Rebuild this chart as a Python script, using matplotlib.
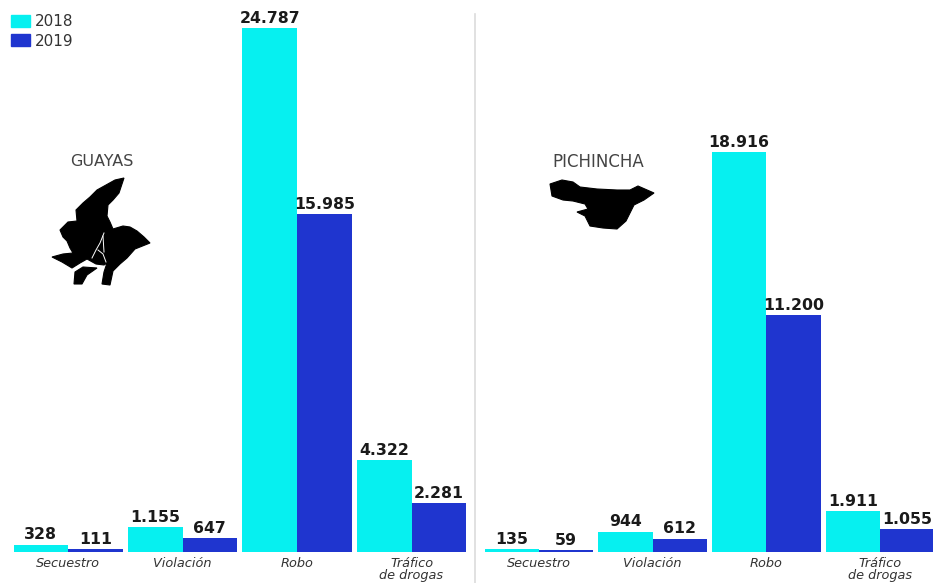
import matplotlib
matplotlib.use("Agg")
import matplotlib.pyplot as plt
from matplotlib.patches import Patch, Polygon

plt.rcParams['font.family'] = ['DejaVu Sans']

categories = ['Secuestro', 'Violación', 'Robo', 'Tráfico\nde drogas']
guayas_2018 = [328, 1155, 24787, 4322]
guayas_2019 = [111, 647, 15985, 2281]
pichincha_2018 = [135, 944, 18916, 1911]
pichincha_2019 = [59, 612, 11200, 1055]

CYAN = '#06f0f0'
BLUE = '#1f35cf'
W, H = 933, 583
BASE = 551.5
PX_PER_UNIT = 523.5 / 24787

# silueta de las provincias, en pixeles de la imagen
guayas_shape = [(124, 178), (115, 180), (106, 185), (97, 190), (90, 197), (83, 203), (76, 210),
                (77, 221), (68, 222), (60, 230), (63, 237), (67, 241), (70, 248), (73, 253),
                (63, 254), (52, 257), (62, 262), (72, 268), (80, 263), (87, 259), (96, 264),
                (104, 265), (107, 263), (104, 272), (102, 284), (110, 285), (113, 271),
                (120, 264), (127, 258), (135, 249), (150, 243), (144, 237), (137, 231),
                (130, 227), (123, 226), (113, 229), (110, 222), (107, 216), (108, 205),
                (113, 200), (119, 193)]
guayas_island = [(75, 272), (83, 267), (97, 268), (87, 275), (82, 284), (74, 284)]
guayas_channels = [[(104, 233), (100, 243), (96, 250), (92, 258)],
                   [(98, 250), (103, 254), (106, 262)],
                   [(103, 236), (104, 252)]]
pichincha_shape = [(550, 184), (562, 180), (573, 182), (580, 187), (597, 189), (617, 190),
                   (630, 190), (638, 186), (654, 193), (644, 200), (634, 205), (631, 211),
                   (626, 221), (617, 229), (603, 228), (590, 226), (585, 216), (577, 212),
                   (588, 209), (585, 204), (573, 201), (563, 200), (552, 196)]


def px_axes(fig, left, right):
    return fig.add_axes([left / W, (H - BASE) / H, (right - left) / W, BASE / H])


def draw_panel(ax, v2018, v2019):
    x = list(range(len(categories)))
    b1 = ax.bar([i - 0.2385 for i in x], v2018, width=0.477, color=CYAN)
    b2 = ax.bar([i + 0.2385 for i in x], v2019, width=0.477, color=BLUE)
    for bars in (b1, b2):
        ax.bar_label(bars, labels=[f"{v:,}".replace(",", ".") for v in bars.datavalues],
                     padding=1.5, fontsize=11.3, fontweight='bold', color='#1a1a1a')
    ax.set_xlim(-0.475, 3.475)
    ax.set_ylim(0, BASE / PX_PER_UNIT)
    ax.set_xticks(x)
    ax.set_xticklabels(categories, fontsize=9.3, fontstyle='italic', color='#333333', linespacing=0.85)
    ax.tick_params(axis='x', length=0, pad=4)
    ax.set_yticks([])
    for s in ax.spines.values():
        s.set_visible(False)
    ax.patch.set_alpha(0)


fig = plt.figure(figsize=(W / 100, H / 100), dpi=100)

ax1 = px_axes(fig, 13.7, 465.9)
ax2 = px_axes(fig, 484.8, 934)
draw_panel(ax1, guayas_2018, guayas_2019)
draw_panel(ax2, pichincha_2018, pichincha_2019)

# capa en pixeles para mapas, divisor y nombres
over = fig.add_axes([0, 0, 1, 1], zorder=-1)
over.set_xlim(0, W)
over.set_ylim(H, 0)
over.axis('off')
over.plot([475, 475], [14, 583], color='#dcdcdc', lw=1.2)
over.add_patch(Polygon(guayas_shape, closed=True, fc='black', ec='black', lw=0.8))
over.add_patch(Polygon(guayas_island, closed=True, fc='black', ec='black', lw=0.8))
for ch in guayas_channels:
    over.plot(*zip(*ch), color='white', lw=0.7)
over.add_patch(Polygon(pichincha_shape, closed=True, fc='black', ec='black', lw=0.8))
over.text(102, 162, 'GUAYAS', ha='center', va='center', fontsize=11.5, color='#444444')
over.text(598, 162, 'PICHINCHA', ha='center', va='center', fontsize=12, color='#444444')

fig.legend(handles=[Patch(color=CYAN, label='2018'), Patch(color=BLUE, label='2019')],
           loc='upper left', bbox_to_anchor=(11 / W, 1 - 14 / H), frameon=False, fontsize=11,
           labelcolor='#333333', handlelength=1.25, handleheight=0.85, handletextpad=0.3,
           labelspacing=0.3, borderpad=0, borderaxespad=0)

fig.savefig('out.png', dpi=100)
